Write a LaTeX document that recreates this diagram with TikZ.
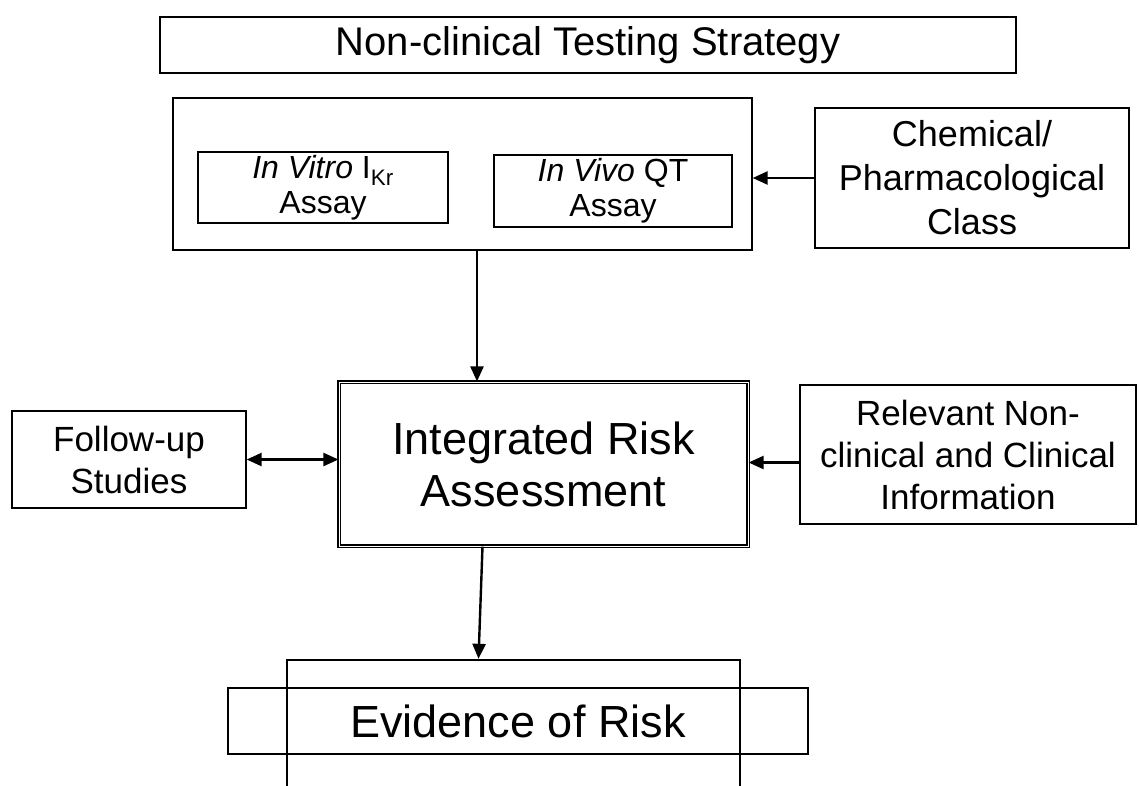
\documentclass[tikz,border=0pt]{standalone}
\usepackage{fontspec}
\setmainfont{Liberation Sans}
\usetikzlibrary{arrows.meta}

\tikzset{
    box/.style={draw, line width=1.3pt, inner sep=0pt, align=center},
    arr/.style={line width=2.4pt, -{Triangle[length=15pt,width=13pt]}},
    smalltext/.style={font=\fontsize{32}{35}\selectfont},
    midtext/.style={font=\fontsize{35}{42}\selectfont},
    bigtext/.style={font=\fontsize{45}{52}\selectfont},
}

\begin{document}
\begin{tikzpicture}[x=1pt, y=-1pt]
    \useasboundingbox (0,0) rectangle (1139,785);

    % Title
    \node[box, font=\fontsize{40}{46}\selectfont, minimum width=856pt, minimum height=56pt] (title) at (588,45) {Non-clinical Testing Strategy};

    % Assay block with its two assays
    \node[box, minimum width=579pt, minimum height=152pt] (assay) at (462.5,174) {};
    \node[box, smalltext, minimum width=250pt, minimum height=71pt] (vitro) at (323,187.5) {\textit{In Vitro} I\textsubscript{Kr}\\Assay};
    \node[box, smalltext, minimum width=238pt, minimum height=72pt] (vivo) at (613,191) {\textit{In Vivo} QT\\Assay};

    % Side inputs
    \node[box, font=\fontsize{36}{44}\selectfont, minimum width=314pt, minimum height=140pt] (chem) at (972,178) {Chemical/\\Pharmacological\\Class};
    \node[box, midtext, minimum width=234pt, minimum height=97pt] (follow) at (129,459.5) {Follow-up\\Studies};
    \node[box, midtext, minimum width=336pt, minimum height=139pt] (rel) at (968,454.5) {Relevant Non-\\clinical and Clinical\\Information};

    % Central assessment
    \node[box, bigtext, double, double distance=1pt, line width=1.2pt, minimum width=409pt, minimum height=164pt] (ira) at (543.5,464) {Integrated Risk\\Assessment};

    % Outcome (frame runs off the page)
    \begin{scope}
        \clip (0,0) rectangle (1139,785);
        \node[box, line width=2.4pt, minimum width=453pt, minimum height=160pt] (frame) at (513.5,740) {};
    \end{scope}
    \node[box, bigtext, line width=1.2pt, minimum width=580pt, minimum height=66pt] (risk) at (518,721) {Evidence of Risk};

    % Connectors
    \draw[arr] (chem.west) -- (chem.west -| assay.east);

    \coordinate (assayout) at ([xshift=14.5pt]assay.south);
    \draw[arr] (assayout) -- (assayout |- ira.north);

    \draw[arr, {Triangle[length=15pt,width=13pt]}-{Triangle[length=15pt,width=13pt]}] (follow.east) -- (follow.east -| ira.west);

    \coordinate (relout) at ([yshift=-8pt]rel.west);
    \draw[arr] (relout) -- (relout -| ira.east);

    \draw[arr] ([xshift=-61pt]ira.south) -- ([xshift=-35pt]frame.north);
\end{tikzpicture}
\end{document}
